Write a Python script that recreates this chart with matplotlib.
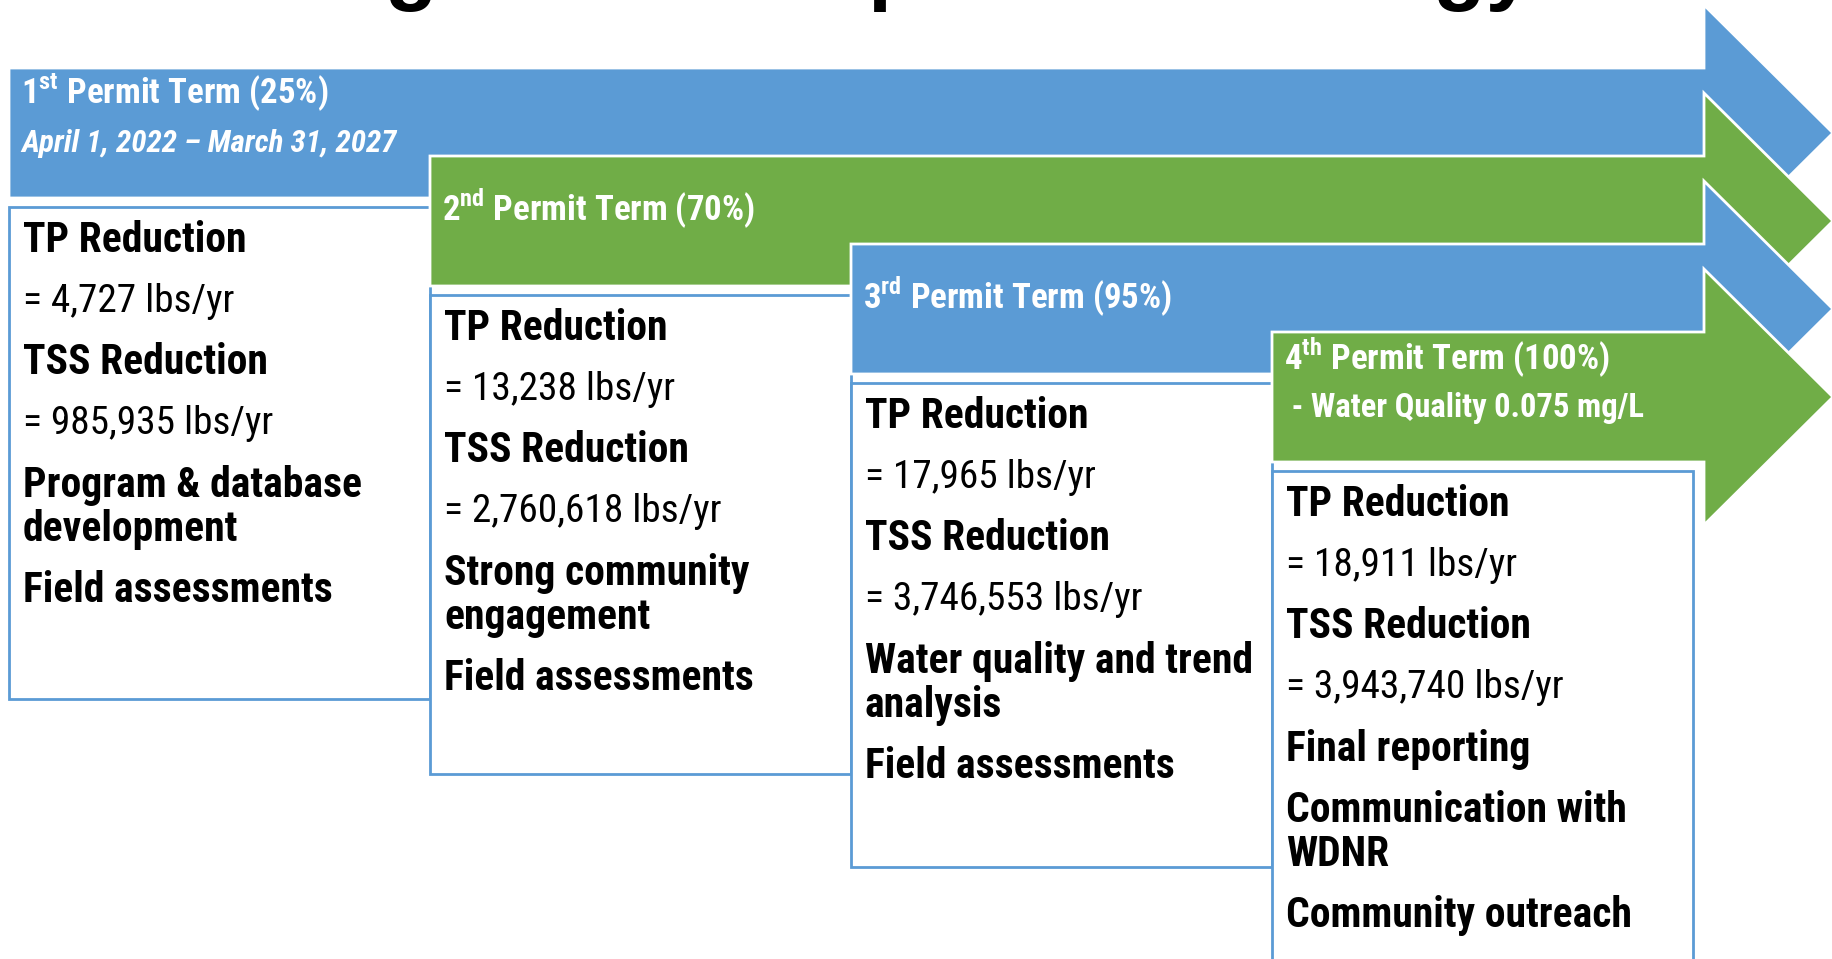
import matplotlib.pyplot as plt
from matplotlib import font_manager
from matplotlib.patches import Polygon, Rectangle

# pick a condensed face if one is installed, otherwise plain Arial metrics
installed = {f.name for f in font_manager.fontManager.ttflist}
narrow = None
for name in ["Liberation Sans Narrow", "Roboto Condensed", "DejaVu Sans Condensed"]:
    if name in installed:
        narrow = name
        break
if narrow is None:
    narrow = "Liberation Sans"
    scale = 0.84
else:
    scale = 1.0

plt.rcParams['font.family'] = [narrow, 'Liberation Sans', 'DejaVu Sans']
plt.rcParams['mathtext.fontset'] = 'custom'
plt.rcParams['mathtext.bf'] = narrow + ':bold'
plt.rcParams['mathtext.rm'] = narrow

# Data
title = "Long-term Compliance Strategy"
term_num = ["1", "2", "3", "4"]
term_sfx = ["st", "nd", "rd", "th"]
term_pct = [25, 70, 95, 100]
term_sub = ["April 1, 2022 – March 31, 2027", "", "", " - Water Quality 0.075 mg/L"]
tp_reduction = [4727, 13238, 17965, 18911]
tss_reduction = [985935, 2760618, 3746553, 3943740]
activities = [
    ["Program & database\ndevelopment", "Field assessments"],
    ["Strong community\nengagement", "Field assessments"],
    ["Water quality and trend\nanalysis", "Field assessments"],
    ["Final reporting", "Communication with\nWDNR", "Community outreach"],
]
arrow_colors = ["#5B9BD5", "#70AD47", "#5B9BD5", "#70AD47"]
box_edge = "#5B9BD5"

# Layout (pixels)
W, H = 1833, 959
x0, step_x = 9, 421
y0, step_y = 68, 88
body_h = 130
head_x, head_half = 1704, 128
box_w = 421
box_h = [492, 479, 484, 600]

fig = plt.figure(figsize=(W / 100, H / 100), dpi=100)
ax = fig.add_axes([0, 0, 1, 1])
ax.set_xlim(0, W)
ax.set_ylim(H, 0)
ax.axis("off")

# title, mostly above the visible area (cut off in the original slide too)
ax.text(880, -6, title, ha="center", va="baseline", fontsize=62,
        fontweight="bold", family="Liberation Sans", clip_on=False)

for i in range(len(term_num)):
    left = x0 + i * step_x
    top = y0 + i * step_y
    mid = top + body_h / 2
    pts = [(left, top), (head_x, top), (head_x, mid - head_half), (W, mid),
           (head_x, mid + head_half), (head_x, top + body_h), (left, top + body_h)]
    ax.add_patch(Polygon(pts, closed=True, facecolor=arrow_colors[i],
                         edgecolor="white", linewidth=2, joinstyle="miter"))

    header = f"{term_num[i]}$^{{\\mathbf{{{term_sfx[i]}}}}}$ Permit Term ({term_pct[i]}%)"
    if term_sub[i]:
        ax.text(left + 12, top + 25, header, color="white", fontsize=25 * scale,
                fontweight="bold", va="center")
        style = "italic" if i == 0 else "normal"
        sub_fs = 22.3 if i == 0 else 23.5
        ax.text(left + 12, top + 76, term_sub[i], color="white", fontsize=sub_fs * scale,
                fontweight="bold", fontstyle=style, va="center")
    else:
        ax.text(left + 12, top + 52, header, color="white", fontsize=25 * scale,
                fontweight="bold", va="center")

    # box underneath
    btop = top + 139
    ax.add_patch(Rectangle((left, btop), box_w, box_h[i], facecolor="white",
                           edgecolor=box_edge, linewidth=2))

    lines = [("TP Reduction", "bold"), (f"= {tp_reduction[i]:,} lbs/yr", "normal"),
             ("TSS Reduction", "bold"), (f"= {tss_reduction[i]:,} lbs/yr", "normal")]
    lines += [(a, "bold") for a in activities[i]]
    y = btop + 34
    for txt, wt in lines:
        fs = 30 if wt == "bold" else 28.4
        for k, part in enumerate(txt.split("\n")):
            if k > 0:
                y += 44
            ax.text(left + 14, y, part, fontsize=fs * scale, fontweight=wt,
                    va="center", color="black")
        y += 61

fig.savefig("out.png", dpi=100)
